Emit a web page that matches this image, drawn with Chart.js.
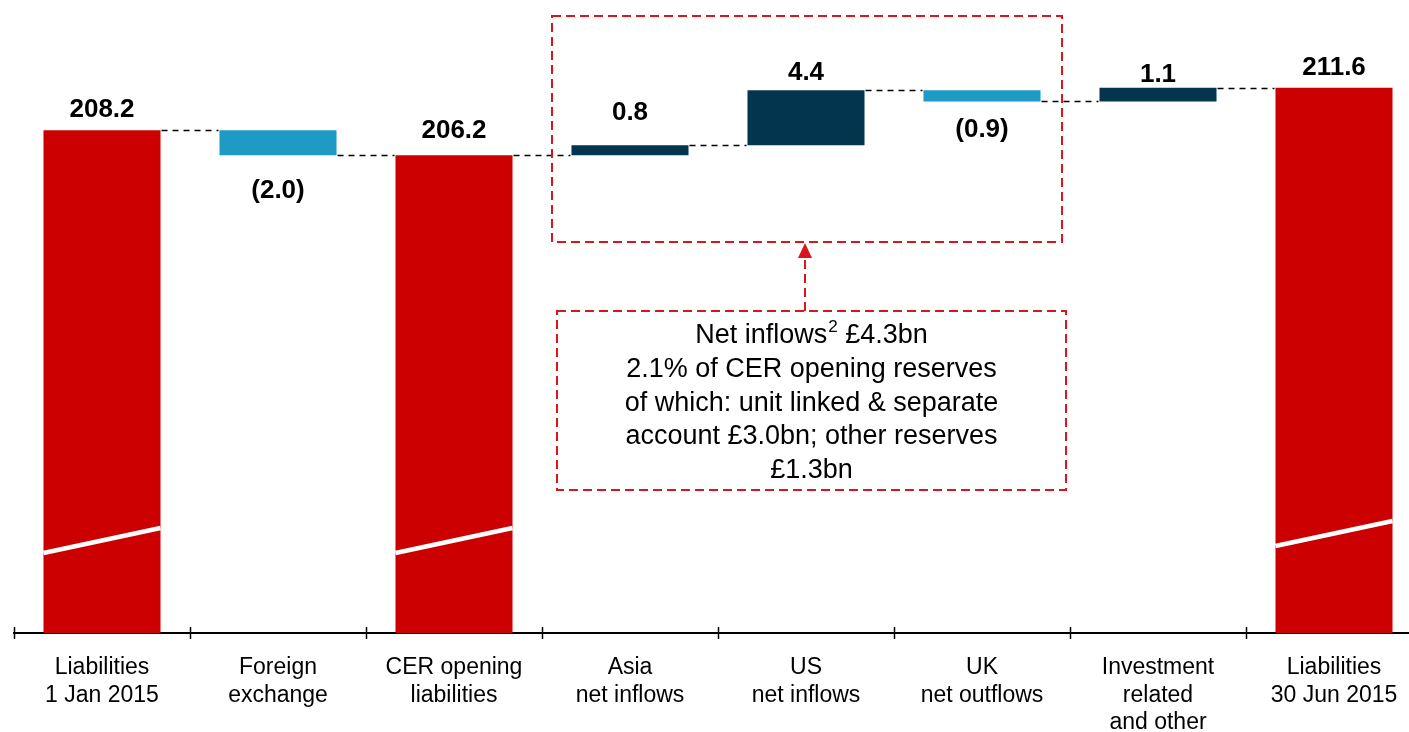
<!DOCTYPE html>
<html>
<head>
<meta charset="utf-8">
<script src="https://cdn.jsdelivr.net/npm/chart.js@4.4.0/dist/chart.umd.min.js"></script>
<style>
  html, body { margin: 0; padding: 0; background: #fff; overflow: hidden; }
  #wrap { width: 1436px; height: 732px; }
</style>
</head>
<body>
<div id="wrap"><canvas id="c" width="1436" height="732"></canvas></div>
<script>
// Policyholder liabilities walk, £bn
const categories = [
  ['Liabilities', '1 Jan 2015'],
  ['Foreign', 'exchange'],
  ['CER opening', 'liabilities'],
  ['Asia', 'net inflows'],
  ['US', 'net inflows'],
  ['UK', 'net outflows'],
  ['Investment', 'related', 'and other'],
  ['Liabilities', '30 Jun 2015']
];
const totals    = [208.2, null, 206.2, null, null, null, null, 211.6];
const movements = [null, -2.0, null, 0.8, 4.4, -0.9, 1.1, null];
const valueLabels = ['208.2', '(2.0)', '206.2', '0.8', '4.4', '(0.9)', '1.1', '211.6'];
const axisFloor = 168.04;   // value axis is truncated (shown by the break marks)
const axisCeiling = 218.6;

// label baseline distance from the bar edge it belongs to
const labelGap = [13, 43, 17, 25, 10, 36, 6, 13];
// break-mark heights above the bar base (left end, right end)
const breakMarks = { 0: [80, 105], 2: [80, 105], 7: [87, 112] };

const RED = '#CC0000', NAVY = '#03354F', BLUE = '#1F9AC4', ANNOT = '#D7161E';
const FONT = '"Liberation Sans", Arial, sans-serif';

// Build floating bars for the waterfall
const ranges = [], colors = [];
let level = 0;
categories.forEach((c, i) => {
  if (totals[i] !== null) {
    level = totals[i];
    ranges.push([axisFloor, totals[i]]);
    colors.push(RED);
  } else {
    const next = Math.round((level + movements[i]) * 10) / 10;
    ranges.push([level, next]);
    colors.push(movements[i] >= 0 ? NAVY : BLUE);
    level = next;
  }
});
const endLevels = ranges.map(r => r[1]);

const waterfallDecor = {
  id: 'waterfallDecor',
  afterDatasetsDraw(chart) {
    const ctx = chart.ctx;
    const meta = chart.getDatasetMeta(0);
    const x = chart.scales.x, y = chart.scales.y;
    const area = chart.chartArea;

    // break marks across the total bars
    ctx.save();
    ctx.strokeStyle = '#fff';
    ctx.lineWidth = 4.5;
    Object.keys(breakMarks).forEach(k => {
      const bar = meta.data[k];
      const base = y.getPixelForValue(axisFloor);
      const l = bar.x - bar.width / 2, r = bar.x + bar.width / 2;
      ctx.beginPath();
      ctx.moveTo(l, base - breakMarks[k][0]);
      ctx.lineTo(r, base - breakMarks[k][1]);
      ctx.stroke();
    });
    ctx.restore();

    // dashed connectors between consecutive bars
    ctx.save();
    ctx.strokeStyle = '#000';
    ctx.lineWidth = 1.6;
    ctx.setLineDash([6, 5]);
    for (let i = 0; i < meta.data.length - 1; i++) {
      const a = meta.data[i], b = meta.data[i + 1];
      const py = Math.round(y.getPixelForValue(endLevels[i])) + 0.5;
      ctx.beginPath();
      ctx.moveTo(a.x + a.width / 2 + 1, py);
      ctx.lineTo(b.x - b.width / 2 - 1, py);
      ctx.stroke();
    }
    ctx.restore();

    // value labels
    ctx.save();
    ctx.fillStyle = '#000';
    ctx.font = 'bold 26px ' + FONT;
    ctx.textAlign = 'center';
    ctx.textBaseline = 'alphabetic';
    meta.data.forEach((bar, i) => {
      const r = ranges[i];
      const top = y.getPixelForValue(Math.max(r[0], r[1]));
      const bottom = y.getPixelForValue(Math.min(r[0], r[1]));
      const negative = movements[i] !== null && movements[i] < 0;
      const ty = negative ? bottom + labelGap[i] : top - labelGap[i];
      ctx.fillText(valueLabels[i], bar.x, ty);
    });
    ctx.restore();

    // tick marks at category boundaries on the category axis
    ctx.save();
    ctx.strokeStyle = '#000';
    ctx.lineWidth = 1.5;
    const step = x.getPixelForValue(1) - x.getPixelForValue(0);
    for (let i = 0; i <= categories.length; i++) {
      const px = Math.round(x.getPixelForValue(0) - step / 2 + i * step) + 0.5;
      ctx.beginPath();
      ctx.moveTo(px, area.bottom - 6);
      ctx.lineTo(px, area.bottom + 6);
      ctx.stroke();
    }
    ctx.restore();

    // callout around the net-flow bars
    const leftEdge = x.getPixelForValue(3) - step / 2;
    const rightEdge = x.getPixelForValue(5) + step / 2;
    ctx.save();
    ctx.strokeStyle = ANNOT;
    ctx.fillStyle = ANNOT;
    ctx.lineWidth = 2;
    ctx.setLineDash([9, 5]);
    ctx.strokeRect(leftEdge + 10, 16, (rightEdge - 8) - (leftEdge + 10), 226);
    const bx = leftEdge + 15, bw = (rightEdge - 4) - bx;
    ctx.strokeRect(bx, 311, bw, 179);
    // arrow from the note up to the callout
    const ax = 805;
    ctx.beginPath();
    ctx.moveTo(ax, 311);
    ctx.lineTo(ax, 257);
    ctx.stroke();
    ctx.setLineDash([]);
    ctx.beginPath();
    ctx.moveTo(ax, 243);
    ctx.lineTo(ax - 7, 258);
    ctx.lineTo(ax + 7, 258);
    ctx.closePath();
    ctx.fill();

    // note text
    const cx = bx + bw / 2;
    ctx.fillStyle = '#000';
    ctx.textBaseline = 'alphabetic';
    const big = '27px ' + FONT, small = '17px ' + FONT;
    ctx.font = big;
    const p1 = 'Net inflows', p3 = ' £4.3bn';
    const w1 = ctx.measureText(p1).width, w3 = ctx.measureText(p3).width;
    ctx.font = small;
    const w2 = ctx.measureText('2').width + 1;
    const sx = cx - (w1 + w2 + w3) / 2;
    ctx.textAlign = 'left';
    ctx.font = big;
    ctx.fillText(p1, sx, 343);
    ctx.font = small;
    ctx.fillText('2', sx + w1 + 1, 332);
    ctx.font = big;
    ctx.fillText(p3, sx + w1 + w2, 343);
    ctx.textAlign = 'center';
    const lines = ['2.1% of CER opening reserves', 'of which: unit linked & separate',
                   'account £3.0bn; other reserves', '£1.3bn'];
    lines.forEach((t, i) => ctx.fillText(t, cx, 377 + i * 33.5));
    ctx.restore();
  }
};

new Chart(document.getElementById('c'), {
  type: 'bar',
  data: {
    labels: categories,
    datasets: [{
      data: ranges,
      backgroundColor: colors,
      borderWidth: 0,
      categoryPercentage: 1,
      barPercentage: 0.665
    }]
  },
  options: {
    responsive: false,
    animation: false,
    events: [],
    layout: { padding: { left: 14, right: 14, top: 0, bottom: 0 } },
    plugins: { legend: { display: false }, tooltip: { enabled: false } },
    scales: {
      x: {
        grid: { display: false, drawTicks: false },
        border: { display: true, color: '#000', width: 2 },
        ticks: {
          color: '#000',
          font: { family: FONT, size: 23, lineHeight: 1.2 },
          padding: 21,
          maxRotation: 0,
          autoSkip: false
        },
        afterFit(scale) { scale.height = 99; }
      },
      y: {
        display: false,
        min: axisFloor,
        max: axisCeiling
      }
    }
  },
  plugins: [waterfallDecor]
});
</script>
</body>
</html>
